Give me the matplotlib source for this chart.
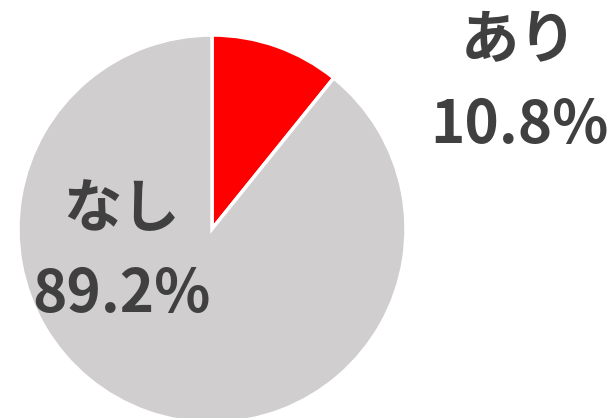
import matplotlib
matplotlib.use("Agg")
import matplotlib.pyplot as plt

categories = ["あり", "なし"]
values = [10.8, 89.2]
colors = ["#FF0000", "#D0CECF"]
pct_labels = ["10.8%", "89.2%"]

W, H = 610, 418
fig = plt.figure(figsize=(W / 100, H / 100), dpi=100)
ax = fig.add_axes([0, 0, 1, 1])
ax.set_xlim(0, W)
ax.set_ylim(0, H)
ax.set_aspect("equal")
ax.axis("off")

cx, cy, r = 212, H - 229, 194
ax.pie(values, colors=colors, startangle=90, counterclock=False,
       center=(cx, cy), radius=r, frame=True,
       wedgeprops=dict(edgecolor="white", linewidth=2.5))
ax.set_xlim(0, W)
ax.set_ylim(0, H)
ax.axis("off")

font = ["Noto Sans CJK JP", "DejaVu Sans"]
tc = "#404040"
positions = [((519, H - 41), (519, H - 126)), ((122, H - 210), (121, H - 295))]
for cat, pct, (p1, p2) in zip(categories, pct_labels, positions):
    ax.text(p1[0], p1[1], cat, ha="center", va="center", fontsize=42,
            fontweight="bold", color=tc, family=font)
    ax.text(p2[0], p2[1], pct, ha="center", va="center", fontsize=42,
            fontweight="bold", color=tc, family=font)

fig.savefig("out.png", dpi=100)
